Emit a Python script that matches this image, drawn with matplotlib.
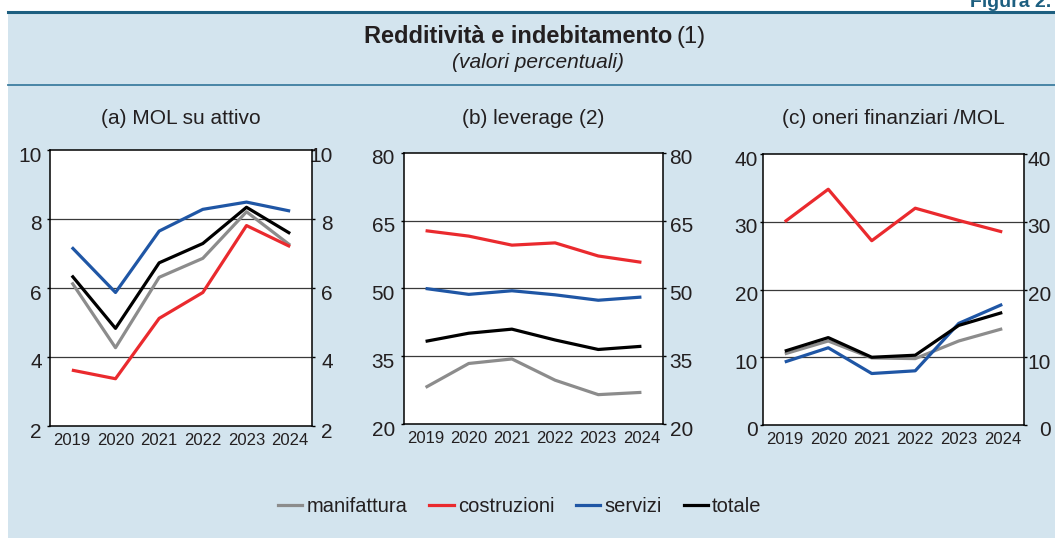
import matplotlib.pyplot as plt
from matplotlib.patches import Rectangle
from matplotlib.lines import Line2D
from matplotlib.transforms import ScaledTranslation

plt.rcParams['font.family'] = ['Liberation Sans', 'DejaVu Sans']

years = [2019, 2020, 2021, 2022, 2023, 2024]
series_names = ["manifattura", "costruzioni", "servizi", "totale"]

# (a) MOL su attivo
mol_manifattura = [6.16, 4.27, 6.31, 6.86, 8.21, 7.24]
mol_costruzioni = [3.62, 3.37, 5.12, 5.87, 7.81, 7.20]
mol_servizi = [7.18, 5.87, 7.65, 8.28, 8.49, 8.23]
mol_totale = [6.36, 4.83, 6.73, 7.29, 8.34, 7.58]

# (b) leverage
lev_manifattura = [28.1, 33.4, 34.4, 29.7, 26.5, 27.0]
lev_costruzioni = [62.8, 61.6, 59.6, 60.1, 57.2, 55.8]
lev_servizi = [50.0, 48.7, 49.5, 48.6, 47.4, 48.1]
lev_totale = [38.3, 40.1, 41.0, 38.6, 36.5, 37.2]

# (c) oneri finanziari / MOL
one_manifattura = [10.5, 12.4, 9.9, 9.8, 12.4, 14.2]
one_costruzioni = [30.0, 34.8, 27.2, 32.0, 30.2, 28.5]
one_servizi = [9.3, 11.4, 7.6, 8.0, 15.0, 17.8]
one_totale = [10.9, 12.9, 10.0, 10.3, 14.7, 16.6]

colors = ["#8c8c8c", "#ea2a2e", "#1f56a5", "#000000"]
bg = "#d3e4ee"
txt = "#231f20"

W, H = 1055, 538
fig = plt.figure(figsize=(W / 100, H / 100), dpi=100)
fig.patch.set_facecolor("white")

# panel background and header lines
fig.patches.append(Rectangle((8 / W, 0), 1 - 8 / W, 1 - 12 / H, transform=fig.transFigure,
                             facecolor=bg, edgecolor="none", zorder=-5))
fig.add_artist(Line2D([8 / W, 1], [1 - 12 / H] * 2, color="#1d5f80", lw=2.2))
fig.add_artist(Line2D([8 / W, 1], [1 - 84.5 / H] * 2, color="#3d7ea0", lw=1.3))

fig.text(1051 / W, 1 - 7 / H, "Figura 2.", ha="right", va="baseline",
         fontsize=14, fontweight="bold", color="#1d5f80")
fig.text(672 / W, 1 - 37 / H, "Redditività e indebitamento", ha="right", va="center",
         fontsize=17, fontweight="bold", color=txt)
fig.text(677 / W, 1 - 37 / H, "(1)", ha="left", va="center", fontsize=17, color=txt)
fig.text(538 / W, 1 - 63 / H, "(valori percentuali)", ha="center", va="center",
         fontsize=15, style="italic", color=txt)

# title, box (l, r, top, bottom px), ylim, yticks, left pad, right pad (pt), data
panels = [
    ("(a) MOL su attivo", (50, 312, 150, 426), (2, 10), [2, 4, 6, 8, 10], 3.8, 13.1,
     [mol_manifattura, mol_costruzioni, mol_servizi, mol_totale]),
    ("(b) leverage (2)", (404, 663, 153, 424), (20, 80), [20, 35, 50, 65, 80], 4.5, 19.6,
     [lev_manifattura, lev_costruzioni, lev_servizi, lev_totale]),
    ("(c) oneri finanziari /MOL", (763, 1024, 154, 425), (0, 40), [0, 10, 20, 30, 40], 1.6, 17.4,
     [one_manifattura, one_costruzioni, one_servizi, one_totale]),
]

shift = ScaledTranslation(0, -0.04, fig.dpi_scale_trans)

for title, (l, r, t, b), ylim, yticks, lpad, rpad, data in panels:
    ax = fig.add_axes([l / W, 1 - b / H, (r - l) / W, (b - t) / H], zorder=2)
    ax.set_facecolor("white")
    for vals, c, name in zip(data, colors, series_names):
        ax.plot(years, vals, color=c, lw=2.3, label=name, solid_capstyle="butt", zorder=3)
    ax.set_xlim(2018.5, 2024.5)
    ax.set_ylim(*ylim)
    ax.set_xticks(years)
    ax.set_yticks(yticks)
    for y in yticks[1:-1]:
        ax.axhline(y, color="#3a3a3a", lw=0.9, zorder=1)
    ax.tick_params(axis="y", which="major", direction="out", length=2, width=1,
                   labelsize=15, labelcolor=txt, right=True, labelright=True)
    ax.yaxis.set_tick_params(which="major", pad=lpad)
    ax.tick_params(axis="x", length=0, pad=5, labelsize=12, labelcolor=txt)
    for s in ax.spines.values():
        s.set_color("black")
        s.set_linewidth(1.1)
    for tk in ax.yaxis.get_major_ticks():
        tk.label2.set_horizontalalignment("right")
        tk.label1.set_transform(tk.label1.get_transform() + shift)
        tk.label2.set_transform(tk.label2.get_transform()
                                + ScaledTranslation((rpad - lpad) / 72, -0.04,
                                                    fig.dpi_scale_trans))
    fig.text((l + r) / 2 / W, 1 - 118 / H, title, ha="center", va="center",
             fontsize=15, color=txt)

handles = [Line2D([], [], color=c, lw=2.3) for c in colors]
fig.legend(handles, series_names, loc="center", bbox_to_anchor=(520 / W, 1 - 507 / H),
           ncol=4, frameon=False, fontsize=14.5, handlelength=1.2, handletextpad=0.2,
           columnspacing=1.1, labelcolor=txt)

fig.savefig("out.png", dpi=100, facecolor=fig.get_facecolor())
